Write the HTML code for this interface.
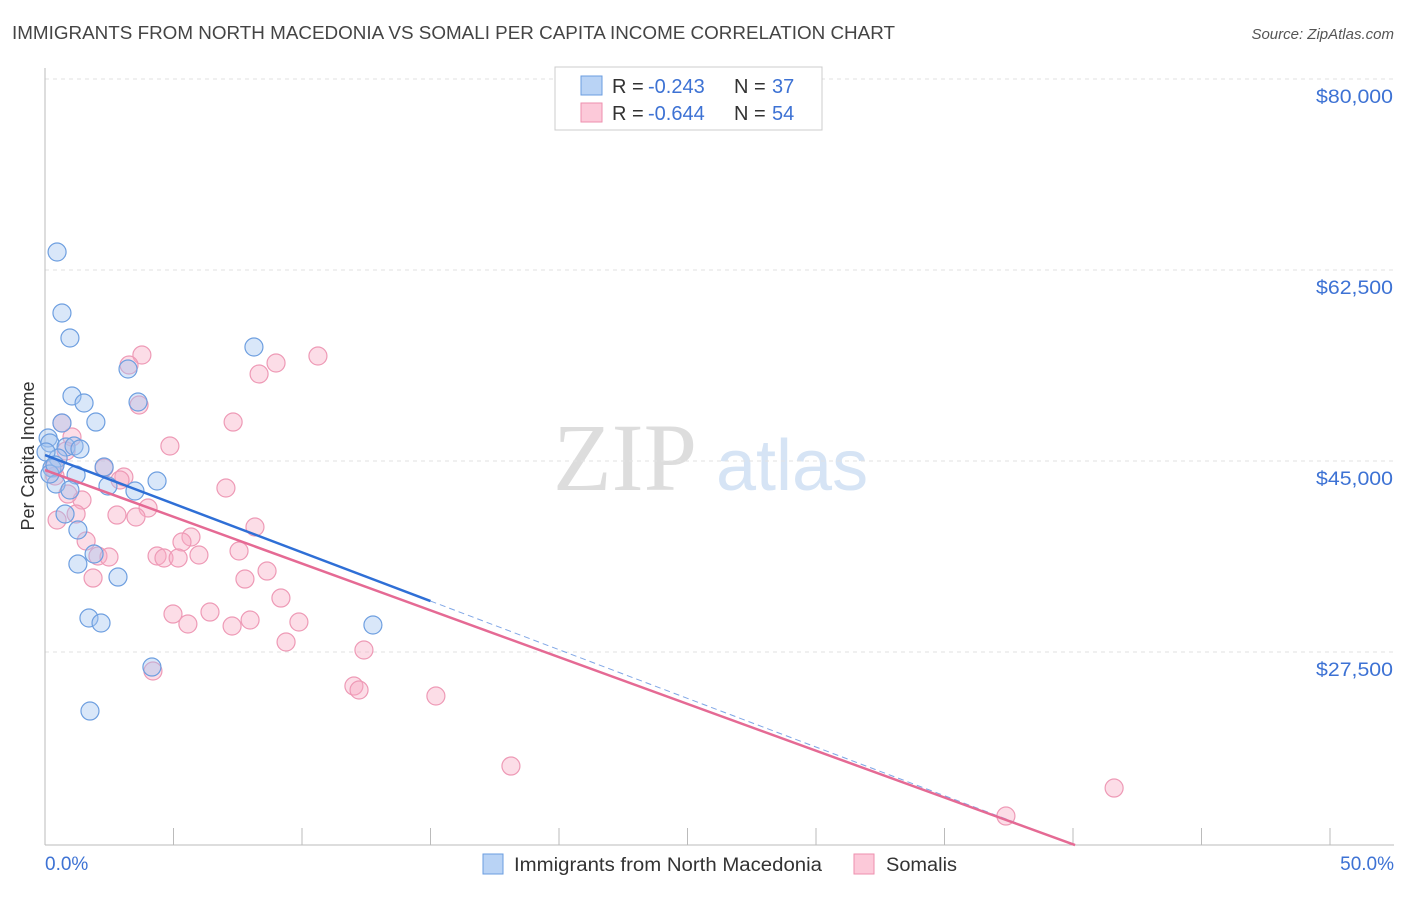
<!DOCTYPE html>
<html><head><meta charset="utf-8"><style>
body{margin:0;background:#fff;font-family:"Liberation Sans",sans-serif;}
</style></head><body>
<svg id="chart" width="1406" height="892" xmlns="http://www.w3.org/2000/svg" font-family="Liberation Sans, sans-serif">
<text x="12" y="39" font-size="18" fill="#444" textLength="883" lengthAdjust="spacingAndGlyphs">IMMIGRANTS FROM NORTH MACEDONIA VS SOMALI PER CAPITA INCOME CORRELATION CHART</text>
<text x="1394" y="39" font-size="15" fill="#555" text-anchor="end" font-style="italic">Source: ZipAtlas.com</text>
<text x="553" y="490" font-size="96" fill="#ddd" font-family="Liberation Serif, serif">ZIP</text>
<text x="716" y="490" font-size="72" fill="#d6e4f5">atlas</text>
<text transform="translate(34,456) rotate(-90)" font-size="18" fill="#333" text-anchor="middle">Per Capita Income</text>
<g id="grid"></g><g id="axes"></g><g id="pts"></g><g id="lines"></g>
<g>
<rect x="555" y="67" width="267" height="63" fill="#fff" stroke="#ccc"/>
<rect x="581" y="76" width="21" height="19" fill="#b9d3f5" stroke="#6a9de0"/>
<rect x="581" y="103" width="21" height="19" fill="#fcc9d9" stroke="#ee8fae"/>
<text x="612" y="93" font-size="20" fill="#333">R = <tspan x="648" fill="#3d72d4">-0.243</tspan><tspan x="734">N = </tspan><tspan x="772" fill="#3d72d4">37</tspan></text>
<text x="612" y="120" font-size="20" fill="#333">R = <tspan x="648" fill="#3d72d4">-0.644</tspan><tspan x="734">N = </tspan><tspan x="772" fill="#3d72d4">54</tspan></text>
</g>
<g>
<rect x="483" y="854" width="20" height="20" fill="#b9d3f5" stroke="#6a9de0"/>
<text x="514" y="871" font-size="19" fill="#333" textLength="308" lengthAdjust="spacingAndGlyphs">Immigrants from North Macedonia</text>
<rect x="854" y="854" width="20" height="20" fill="#fcc9d9" stroke="#ee8fae"/>
<text x="886" y="871" font-size="19" fill="#333" textLength="71" lengthAdjust="spacingAndGlyphs">Somalis</text>
</g>
</svg>
<script>
const yTicks=[80000,62500,45000,27500];
const yTickLabels=["$80,000","$62,500","$45,000","$27,500"];
const xTicks=[0,5,10,15,20,25,30,35,40,45,50];
const blueX=[0.47,0.66,0.97,8.13,3.23,1.05,1.52,3.62,1.98,0.66,0.12,0.19,0.82,1.13,1.36,0.51,0.04,0.27,1.21,2.30,4.36,0.43,0.97,2.45,3.50,0.78,1.28,1.91,1.28,2.84,1.71,2.18,12.76,4.16,1.75,0.19,0.39];
const blueY=[64148,58558,56268,55443,53427,50953,50312,50403,48570,48479,47105,46647,46280,46372,46097,45272,45822,44356,43715,44448,43165,42890,42340,42707,42249,40141,38675,36476,35560,34368,30612,30154,29971,26122,22090,43806,44631];
const pinkX=[0.66,3.77,3.27,10.62,8.99,8.33,3.66,7.32,1.05,4.86,0.82,2.30,3.07,2.92,7.04,0.39,1.44,0.89,4.01,2.80,3.54,1.21,0.47,8.17,1.60,7.55,5.68,5.33,4.36,4.63,5.18,5.99,2.06,2.49,1.87,8.64,7.78,9.18,4.98,6.42,5.56,7.28,7.98,9.88,9.38,4.20,12.41,12.02,12.22,15.21,18.13,41.60,37.39,0.35];
const pinkY=[48479,54710,53794,54619,53977,52969,50128,48570,47196,46372,45914,44356,43531,43256,42523,43623,41424,41973,40691,40049,39866,40141,39591,38950,37667,36751,38034,37576,36293,36110,36110,36385,36293,36201,34276,34918,34185,32444,30978,31161,30062,29879,30429,30246,28413,25756,27680,24381,24015,23465,17051,15035,12469,44356];
const blueTrend=[45547,32168]; // value at 0% and 15%
const pinkTrend=[44173,9811];  // value at 0% and 40.08%
const NS="http://www.w3.org/2000/svg";
const X=p=>45+p*25.7, Y=v=>79+(80000-v)*0.010914;
function mk(t,a,parent){const e=document.createElementNS(NS,t);for(const k in a)e.setAttribute(k,a[k]);document.getElementById(parent).appendChild(e);return e;}
yTicks.forEach((v,i)=>{
 const l=mk('line',{x1:45,x2:1394,y1:Y(v),y2:Y(v),stroke:'#e2e2e2','stroke-dasharray':'4,4'},'grid');
 
 
 const t=mk('text',{x:1393,y:Y(v)+24,'font-size':19,fill:'#3d72d4','text-anchor':'end',textLength:77,lengthAdjust:'spacingAndGlyphs'},'grid');t.textContent=yTickLabels[i];
 
 
});
let ax=mk('line',{x1:45,x2:45,y1:68,y2:845,stroke:'#bbb'},'axes');


ax=mk('line',{x1:45,x2:1394,y1:845,y2:845,stroke:'#bbb'},'axes');


xTicks.forEach(p=>{const t=mk('line',{x1:X(p),x2:X(p),y1:828,y2:845,stroke:'#bbb'},'axes');
 
 });
let xl=mk('text',{x:45,y:870,'font-size':19,fill:'#3d72d4'},'axes');xl.textContent='0.0%';


xl=mk('text',{x:1394,y:870,'font-size':19,fill:'#3d72d4','text-anchor':'end'},'axes');xl.textContent='50.0%';


pinkX.forEach((p,i)=>{const c=mk('circle',{cx:X(p),cy:Y(pinkY[i]),r:9,fill:'rgba(248,170,196,0.4)',stroke:'#ee9ab6','stroke-width':1.2},'pts');
 
 });
blueX.forEach((p,i)=>{const c=mk('circle',{cx:X(p),cy:Y(blueY[i]),r:9,fill:'rgba(160,196,240,0.4)',stroke:'#6e9fe0','stroke-width':1.2},'pts');
 
 });
let ln=mk('line',{x1:X(0),y1:Y(blueTrend[0]),x2:X(15),y2:Y(blueTrend[1]),stroke:'#2f6fd6','stroke-width':2.5},'lines');


const slope=(blueTrend[1]-blueTrend[0])/15;
ln=mk('line',{x1:X(15),y1:Y(blueTrend[1]),x2:X(40),y2:Y(blueTrend[0]+slope*40),stroke:'#7fa6e6','stroke-width':1,'stroke-dasharray':'6,4'},'lines');


ln=mk('line',{x1:X(0),y1:Y(pinkTrend[0]),x2:X(40.08),y2:Y(pinkTrend[1]),stroke:'#e56a94','stroke-width':2.5},'lines');


</script>
</body></html>
